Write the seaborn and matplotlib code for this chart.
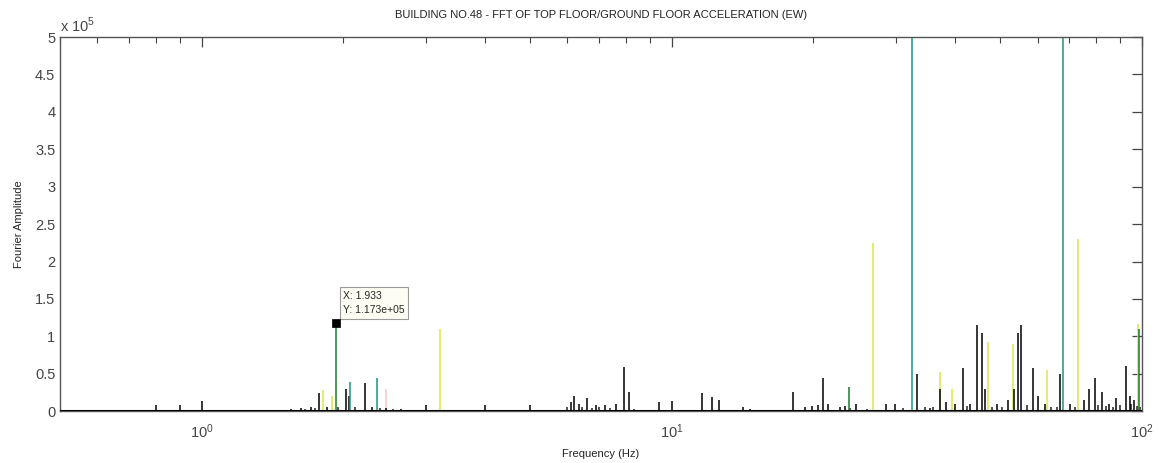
import numpy as np
import pandas as pd
import matplotlib
matplotlib.use('Agg')
import matplotlib.pyplot as plt
import seaborn as sns
from matplotlib.ticker import LogLocator, FixedLocator, FuncFormatter, NullFormatter

sns.set_style('white')
plt.rcParams['font.family'] = ['Liberation Sans', 'DejaVu Sans']
plt.rcParams['mathtext.fontset'] = 'custom'
plt.rcParams['mathtext.rm'] = 'Liberation Sans'

# spectrum peaks (Hz, amplitude in units of 1e5)
black_freq = [0.80, 0.90, 1.00, 1.55, 1.63, 1.71, 1.78, 1.85, 2.03, 2.06, 2.22, 2.30, 2.47, 2.66,
              3.0, 4.0, 5.0, 6.1, 6.2, 6.35, 6.6, 6.9, 7.2, 7.6, 7.9, 8.1, 9.4, 10.0, 11.6, 12.2,
              12.6, 14.2, 14.7, 18.1, 19.2, 19.9, 20.5, 21.0, 21.5, 22.8, 23.4, 24.6, 28.5, 29.9,
              33.3, 35.5, 37.3, 38.4, 40.1, 41.7, 43.2, 44.6, 45.7, 46.4, 49.2, 51.9, 53.5, 54.6,
              55.3, 58.7, 60.1, 62.2, 67.0, 70.2, 75.5, 77.4, 79.5, 82.2, 85.3, 88.3, 92.5, 94.4, 96.3]
black_amp = [0.08, 0.08, 0.14, 0.03, 0.04, 0.05, 0.24, 0.06, 0.30, 0.20, 0.37, 0.05, 0.04, 0.03,
             0.08, 0.08, 0.08, 0.12, 0.20, 0.10, 0.17, 0.08, 0.08, 0.10, 0.59, 0.25, 0.12, 0.14, 0.24, 0.19,
             0.15, 0.05, 0.03, 0.26, 0.05, 0.07, 0.08, 0.44, 0.10, 0.06, 0.07, 0.10, 0.10, 0.10,
             0.50, 0.04, 0.30, 0.12, 0.10, 0.57, 0.10, 1.15, 1.04, 0.30, 0.10, 0.15, 0.30, 1.04,
             1.15, 0.57, 0.20, 0.10, 0.50, 0.10, 0.15, 0.30, 0.44, 0.26, 0.10, 0.18, 0.60, 0.20, 0.15]

# low noise spikes close to the baseline
noise_freq = [1.58, 1.66, 1.74, 1.95, 2.12, 2.40, 2.55, 2.80, 6.0, 6.45, 6.75, 7.0, 7.4, 8.3,
              24.0, 26.0, 31.0, 34.5, 36.0, 42.5, 48.0, 50.5, 57.0, 64.0, 66.0, 72.0, 80.5,
              84.0, 87.0, 90.0, 95.0, 97.5, 99.0]
noise_amp = [0.02, 0.03, 0.04, 0.05, 0.06, 0.04, 0.03, 0.02, 0.05, 0.06, 0.04, 0.05, 0.04, 0.03,
             0.04, 0.03, 0.04, 0.05, 0.06, 0.07, 0.06, 0.05, 0.08, 0.06, 0.05, 0.06, 0.08,
             0.07, 0.06, 0.08, 0.10, 0.07, 0.05]

yellow_freq = [1.81, 1.89, 3.22, 26.8, 37.3, 39.4, 47.0, 53.3, 62.8, 73.0, 98.1]
yellow_amp = [0.28, 0.20, 1.10, 2.25, 0.52, 0.30, 0.92, 0.90, 0.55, 2.30, 1.17]

teal_freq = [2.07, 2.36, 32.5, 68.0]
teal_amp = [0.39, 0.44, 6.0, 6.0]

green_freq = [1.933, 23.8, 98.5]
green_amp = [1.173, 0.32, 1.10]

pink_freq = [2.47]
pink_amp = [0.30]

tip_x = 1.933
tip_y = 1.173e5

series = {
    'yellow': (yellow_freq, yellow_amp, '#dde64a'),
    'pink': (pink_freq, pink_amp, '#f7c6c6'),
    'noise': (noise_freq, noise_amp, '#222222'),
    'black': (black_freq, black_amp, '#000000'),
    'teal': (teal_freq, teal_amp, '#1a9488'),
    'green': (green_freq, green_amp, '#1b7a2a'),
}

fig = plt.figure(figsize=(11.58, 4.63), dpi=100)
ax = fig.add_axes([0.052, 0.112, 0.934, 0.808])

for name, (f, a, c) in series.items():
    ax.vlines(f, 0, np.array(a) * 1e5, color=c, linewidth=1.1, zorder=2)
ax.axhline(0, color='black', linewidth=2.2, zorder=3)

# data tip
tip = pd.DataFrame({'x': [tip_x], 'y': [tip_y]})
sns.scatterplot(data=tip, x='x', y='y', marker='s', s=40, color='black',
                edgecolor='black', ax=ax, zorder=5)
ax.annotate(f'X: {tip_x:.3f}\nY: {tip_y:.3e}',
            xy=(tip_x, tip_y), xytext=(5, 6), textcoords='offset points',
            ha='left', va='bottom', fontsize=7.5, linespacing=1.5,
            bbox=dict(boxstyle='square,pad=0.35', fc='#fdfdf3', ec='#9a9a9a', lw=0.8))

ax.set_xscale('log')
ax.set_xlim(0.5, 100)
ax.set_ylim(0, 5e5)
ax.yaxis.set_major_locator(FixedLocator(np.arange(0, 5.01e5, 0.5e5)))
ax.yaxis.set_major_formatter(FuncFormatter(lambda v, p: f'{v / 1e5:g}'))
ax.xaxis.set_major_locator(LogLocator(base=10))
ax.xaxis.set_minor_locator(LogLocator(base=10, subs=np.arange(2, 10)))
ax.xaxis.set_minor_formatter(NullFormatter())

ax.tick_params(axis='both', which='both', direction='in', top=True, right=True,
               colors='#444444', labelsize=10.5)
ax.tick_params(axis='both', which='major', length=7, width=0.9)
ax.tick_params(axis='x', which='minor', length=4, width=0.8)
ax.tick_params(axis='x', which='major', pad=8)
for s in ax.spines.values():
    s.set_color('#555555')
    s.set_linewidth(1.0)

ax.text(0.0, 1.005, r'x 10$^5$', transform=ax.transAxes, ha='left', va='bottom',
        fontsize=10.5, color='#444444')
ax.set_xlabel('Frequency (Hz)', fontsize=8, color='#222222', labelpad=6)
ax.set_ylabel('Fourier Amplitude', fontsize=8, color='#222222', labelpad=8)
ax.set_title('BUILDING NO.48 - FFT OF TOP FLOOR/GROUND FLOOR ACCELERATION (EW)',
             fontsize=8, color='#222222', pad=14)

fig.savefig('out.png', dpi=100)
